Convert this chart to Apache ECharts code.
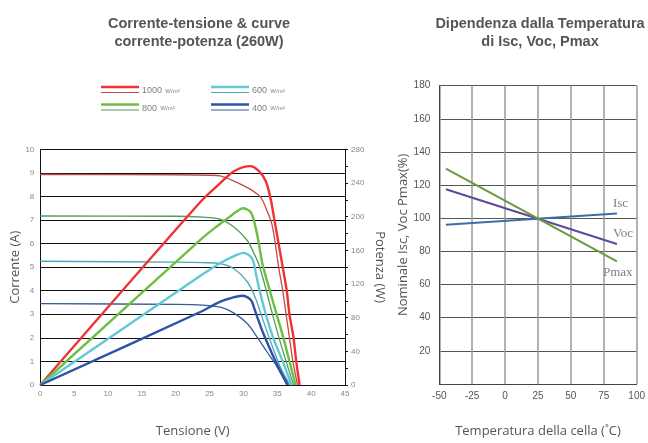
<!DOCTYPE html>
<html><head><meta charset="utf-8">
<script src="https://cdn.jsdelivr.net/npm/echarts/dist/echarts.min.js"></script>
<style>html,body{margin:0;padding:0;background:#fff}#c{width:648px;height:443px}</style>
</head><body><div id="c"></div>
<script>
// ---- Left chart data: [voltage V, current A] (thin) and [voltage V, power W] (thick)
var iv1000 = [[0,8.93],[20,8.92],[25,8.9],[26.6,8.87],[28.6,8.65],[31.1,8.29],[32.6,7.94],[33.5,7.38],[34.2,6.82],[34.7,6.0],[35.2,5.0],[35.8,4.0],[36.3,3.0],[36.8,2.0],[37.3,1.0],[38.0,0]];
var pv1000 = [[0,0],[23.7,218],[26.6,240],[28.6,254],[31,260],[32.3,254],[33.3,242],[34,222],[34.6,195],[35.3,163],[35.8,140],[36.4,112],[36.8,84],[37.4,56],[37.8,28],[38.3,0]];
var iv800 = [[0,7.17],[20,7.16],[24,7.12],[26.6,7.03],[28.6,6.7],[30.6,6.12],[31.6,5.56],[32.3,5.1],[33.2,4.2],[34.2,3.1],[35.2,2.05],[36.3,1.0],[37.4,0]];
var pv800 = [[0,0],[24,175],[26,188],[28,200],[29,206],[29.9,210],[31.1,205],[31.8,187],[32.3,167],[32.8,144],[33.9,112],[34.9,84],[35.9,56],[36.8,28],[37.7,0]];
var iv600 = [[0,5.25],[20,5.21],[24,5.19],[26.6,5.15],[28.6,4.93],[30.6,4.37],[31.8,3.67],[32.8,2.83],[34,1.85],[35.5,0.73],[36.9,0]];
var pv600 = [[0,0],[23.7,130],[26.6,145],[28.6,153],[30,157],[31.3,150],[31.9,130],[32.4,112],[33.3,84],[34.4,56],[35.8,28],[37.1,0]];
var iv400 = [[0,3.45],[20,3.42],[24,3.39],[26.6,3.3],[28.6,3.05],[30.6,2.6],[32.1,2.0],[33.5,1.4],[35,0.75],[36.4,0]];
var pv400 = [[0,0],[23.7,87],[26.6,99],[28.5,104],[29.8,106],[31.1,101],[31.6,91],[32.3,75],[33,60],[34.3,36],[35.5,16],[36.6,0]];
var irrLabels = ['1000','800','600','400'];

// ---- Right chart data: temperature (°C) vs % of nominal
var tempC = [-45, 85];
var iscPct = [96.1, 102.9];
var vocPct = [117.5, 84.5];
var pmaxPct = [130, 74];

var thickColors = ['#ee3333','#6cbf42','#62c8d6','#2d52a6'];
var thinColors  = ['#c24a4a','#4e9e5c','#4aa8b8','#3a5a9c'];
var ivSets = [iv1000, iv800, iv600, iv400];
var pvSets = [pv1000, pv800, pv600, pv400];

function pair(xs, ys){ return xs.map(function(x,i){return [x, ys[i]];}); }

var series = [];
for (var k=0;k<4;k++){
  series.push({type:'line', xAxisIndex:0, yAxisIndex:0, data: ivSets[k], smooth:0.3, showSymbol:false, silent:true,
    lineStyle:{color:thinColors[k], width:1.3}, z:3});
  series.push({type:'line', xAxisIndex:0, yAxisIndex:1, data: pvSets[k], smooth:0.3, showSymbol:false, silent:true,
    lineStyle:{color:thickColors[k], width:2.4}, z:4});
}
var tSeries = [['Isc', iscPct, '#3b6ea8', [-4,-10]], ['Voc', vocPct, '#584c9a', [-4,-10]], ['Pmax', pmaxPct, '#6b9a3c', [-14,11]]];
tSeries.forEach(function(s){
  series.push({type:'line', name:s[0], xAxisIndex:1, yAxisIndex:2, data: pair(tempC, s[1]), showSymbol:false, silent:true,
    lineStyle:{color:s[2], width:2},
    endLabel:{show:true, formatter:s[0], distance:0, offset:s[3], color:'#808080', fontFamily:'Liberation Serif', fontSize:13}});
});

// legend graphics (column 1: 1000, 800; column 2: 600, 400)
var graphic = [];
var colX = [101, 211], rowY = [87, 104.5];
for (var k=0;k<4;k++){
  var gx = colX[Math.floor(k/2)], gy = rowY[k%2];
  graphic.push({type:'line', shape:{x1:gx,y1:gy,x2:gx+38,y2:gy}, style:{stroke:thickColors[k], lineWidth:2.6}});
  graphic.push({type:'line', shape:{x1:gx,y1:gy+5.5,x2:gx+38,y2:gy+5.5}, style:{stroke:thinColors[k], lineWidth:1.2}});
  graphic.push({type:'text', x:gx+41, y:gy+4, style:{text:'{a|'+irrLabels[k]+'} {b|W/m²}', verticalAlign:'middle',
    rich:{a:{fontSize:9, fill:'#808080', fontFamily:'Liberation Sans'}, b:{fontSize:6, fill:'#808080', fontFamily:'Liberation Sans'}}}});
}

var lbl = {color:'#888', fontSize:8, fontFamily:'Liberation Sans'};
var nameSty = {color:'#555', fontSize:13, fontFamily:'Open Sans'};
var titleSty = {fontSize:14.5, fontWeight:'bold', color:'#555', fontFamily:'Liberation Sans', lineHeight:18};
var option = {
  animation:false,
  backgroundColor:'#fff',
  title:[
    {text:'Corrente-tensione & curve\ncorrente-potenza (260W)', left:194, top:10, textAlign:'center', textStyle:titleSty},
    {text:'Dipendenza dalla Temperatura\ndi Isc, Voc, Pmax', left:535, top:10, textAlign:'center', textStyle:titleSty}
  ],
  graphic: graphic,
  grid:[
    {left:40.3, right:303, top:149.3, bottom:55.7, containLabel:false},
    {left:439.3, right:9, top:85.7, bottom:57, containLabel:false}
  ],
  xAxis:[
    {type:'value', gridIndex:0, min:0, max:45, interval:5,
     axisLine:{show:true, onZero:false, lineStyle:{color:'#111', width:1}}, axisTick:{show:false},
     axisLabel:Object.assign({margin:5}, lbl), splitLine:{show:false},
     name:'Tensione (V)', nameLocation:'middle', nameGap:40, nameTextStyle:nameSty},
    {type:'value', gridIndex:1, min:-50, max:100, interval:25,
     axisLine:{show:true, onZero:false, lineStyle:{color:'#444', width:1}}, axisTick:{show:false},
     axisLabel:{color:'#555', fontSize:10, fontFamily:'Liberation Sans', margin:7},
     splitLine:{show:true, lineStyle:{color:'#9a9a9a', width:1.5}},
     name:'Temperatura della cella (˚C)', nameLocation:'middle', nameGap:41, nameTextStyle:nameSty}
  ],
  yAxis:[
    {type:'value', gridIndex:0, min:0, max:10, interval:1,
     axisLine:{show:true, onZero:false, lineStyle:{color:'#111', width:1}}, axisTick:{show:false},
     axisLabel:Object.assign({margin:6}, lbl), splitLine:{show:true, lineStyle:{color:'#111', width:1}},
     name:'Corrente (A)', nameLocation:'middle', nameGap:17, nameRotate:90, nameTextStyle:nameSty},
    {type:'value', gridIndex:0, position:'right', min:0, max:280, interval:20,
     axisLine:{show:true, onZero:false, lineStyle:{color:'#111', width:1}},
     axisTick:{show:true, length:3, lineStyle:{color:'#111'}},
     axisLabel:Object.assign({margin:6, formatter:function(v){return v%40===0? String(v):'';}}, lbl),
     splitLine:{show:false},
     name:'Potenza (W)', nameLocation:'middle', nameGap:28, nameRotate:-90, nameTextStyle:nameSty},
    {type:'value', gridIndex:1, min:0, max:180, interval:20,
     axisLine:{show:true, onZero:false, lineStyle:{color:'#444', width:1}}, axisTick:{show:false},
     axisLabel:{color:'#555', fontSize:10, fontFamily:'Liberation Sans', margin:9, formatter:function(v){return v===0?'':String(v);}},
     splitLine:{show:true, lineStyle:{color:'#555', width:1}},
     name:'Nominale Isc, Voc Pmax(%)', nameLocation:'middle', nameGap:27, nameRotate:90, nameTextStyle:nameSty}
  ],
  series: series
};
var chart = echarts.init(document.getElementById('c'), null, {renderer:'canvas'});
chart.setOption(option);
</script></body></html>
